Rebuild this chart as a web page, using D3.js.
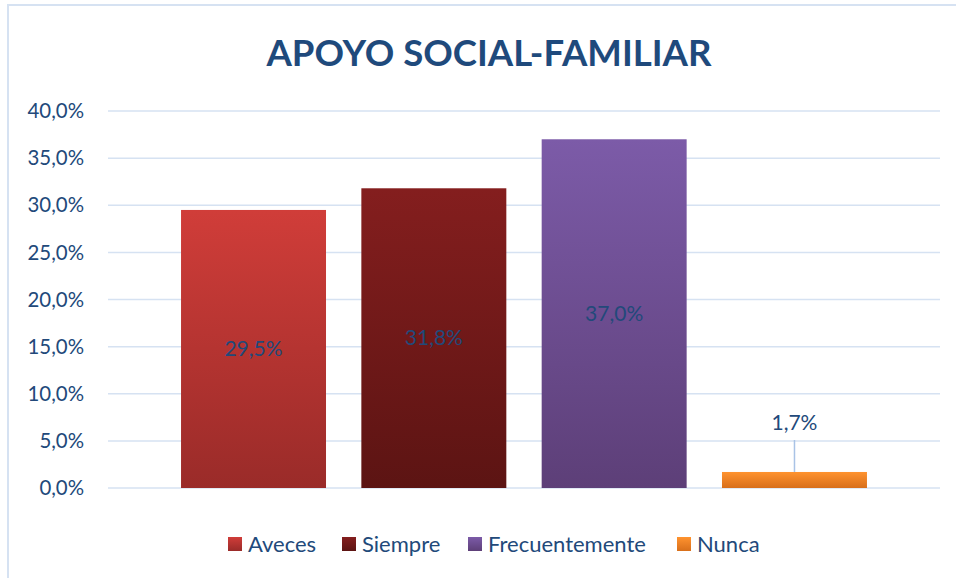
<!DOCTYPE html>
<html>
<head>
<meta charset="utf-8">
<script src="https://cdn.jsdelivr.net/npm/d3@7"></script>
<style>
  body { margin: 0; background: #fff; }
  svg text { font-family: Lato, "Open Sans", sans-serif; }
</style>
</head>
<body>
<div id="chart"></div>
<script>
// data
var categories = ["Aveces", "Siempre", "Frecuentemente", "Nunca"];
var values = [29.5, 31.8, 37.0, 1.7];
var yTicks = [0, 5, 10, 15, 20, 25, 30, 35, 40];
var title = "APOYO SOCIAL-FAMILIAR";

// top / bottom colours of each bar's gradient
var colorTop = ["#d03d39", "#841e1e", "#7c5ba8", "#ff932f"];
var colorBottom = ["#9a2b29", "#5c1413", "#5d3f78", "#d86f1b"];

var width = 956, height = 578;
var margin = {top: 111, right: 16, bottom: 90, left: 108};
var textColor = "#22497a";
var gridColor = "#d6e2f2";

var svg = d3.select("#chart").append("svg")
    .attr("width", width)
    .attr("height", height);

// gradients
var defs = svg.append("defs");
categories.forEach(function(c, i) {
  var g = defs.append("linearGradient")
      .attr("id", "grad" + i)
      .attr("x1", 0).attr("y1", 0).attr("x2", 0).attr("y2", 1);
  g.append("stop").attr("offset", "0%").attr("stop-color", colorTop[i]);
  g.append("stop").attr("offset", "100%").attr("stop-color", colorBottom[i]);
});

// chart frame
svg.append("rect")
    .attr("x", 8).attr("y", 5)
    .attr("width", width + 10).attr("height", height + 10)
    .attr("fill", "none")
    .attr("stroke", gridColor)
    .attr("stroke-width", 2);

svg.append("text")
    .attr("x", 489)
    .attr("y", 66)
    .attr("text-anchor", "middle")
    .attr("fill", "#1f4a7c")
    .style("font-size", "36.6px")
    .style("font-weight", "bold")
    .text(title);

var plotW = width - margin.left - margin.right,
    plotH = 488 - margin.top;

var g = svg.append("g")
    .attr("transform", "translate(" + margin.left + "," + margin.top + ")");

var x = d3.scaleBand()
    .domain(categories)
    .range([0, plotW])
    .paddingInner(0.196)
    .paddingOuter(0.405);

var y = d3.scaleLinear()
    .domain([0, 40])
    .range([plotH, 0]);

// gridlines
g.selectAll(".grid")
    .data(yTicks)
  .enter().append("line")
    .attr("class", "grid")
    .attr("x1", 0)
    .attr("x2", plotW)
    .attr("y1", d => y(d))
    .attr("y2", d => y(d))
    .attr("stroke", gridColor)
    .attr("stroke-width", 1.5);

// y axis labels
var fmt = d => d3.format(".1f")(d).replace(".", ",") + "%";
g.selectAll(".ylab")
    .data(yTicks)
  .enter().append("text")
    .attr("class", "ylab")
    .attr("x", -24)
    .attr("y", d => y(d))
    .attr("dy", "0.35em")
    .attr("text-anchor", "end")
    .attr("fill", textColor)
    .style("font-size", "20.4px")
    .text(fmt);

// bars
g.selectAll(".bar")
    .data(values)
  .enter().append("rect")
    .attr("class", "bar")
    .attr("x", (d, i) => x(categories[i]))
    .attr("width", x.bandwidth())
    .attr("y", d => y(d))
    .attr("height", d => plotH - y(d))
    .attr("fill", (d, i) => "url(#grad" + i + ")");

// data labels
g.selectAll(".vlab")
    .data(values)
  .enter().append("text")
    .attr("class", "vlab")
    .attr("x", (d, i) => x(categories[i]) + x.bandwidth() / 2)
    .attr("y", d => d > 5 ? (y(d) + plotH) / 2 : y(d) - 49)
    .attr("dy", "0.35em")
    .attr("text-anchor", "middle")
    .attr("fill", textColor)
    .style("font-size", "21px")
    .text(d => d3.format(".1f")(d).replace(".", ",") + "%");

// leader line for the small bar
values.forEach(function(d, i) {
  if (d > 5) return;
  var cx = x(categories[i]) + x.bandwidth() / 2;
  g.append("line")
      .attr("x1", cx).attr("x2", cx)
      .attr("y1", y(d) - 32).attr("y2", y(d))
      .attr("stroke", "#a9c3e6")
      .attr("stroke-width", 1.5);
});

// legend
var legendX = [228, 342, 468, 677];
var legend = svg.append("g").attr("transform", "translate(0,544)");
categories.forEach(function(c, i) {
  legend.append("rect")
      .attr("x", legendX[i])
      .attr("y", -7)
      .attr("width", 14)
      .attr("height", 14)
      .attr("fill", "url(#grad" + i + ")");
  legend.append("text")
      .attr("x", legendX[i] + 20)
      .attr("y", 0)
      .attr("dy", "0.35em")
      .attr("fill", textColor)
      .style("font-size", "22px")
      .text(c);
});
</script>
</body>
</html>
